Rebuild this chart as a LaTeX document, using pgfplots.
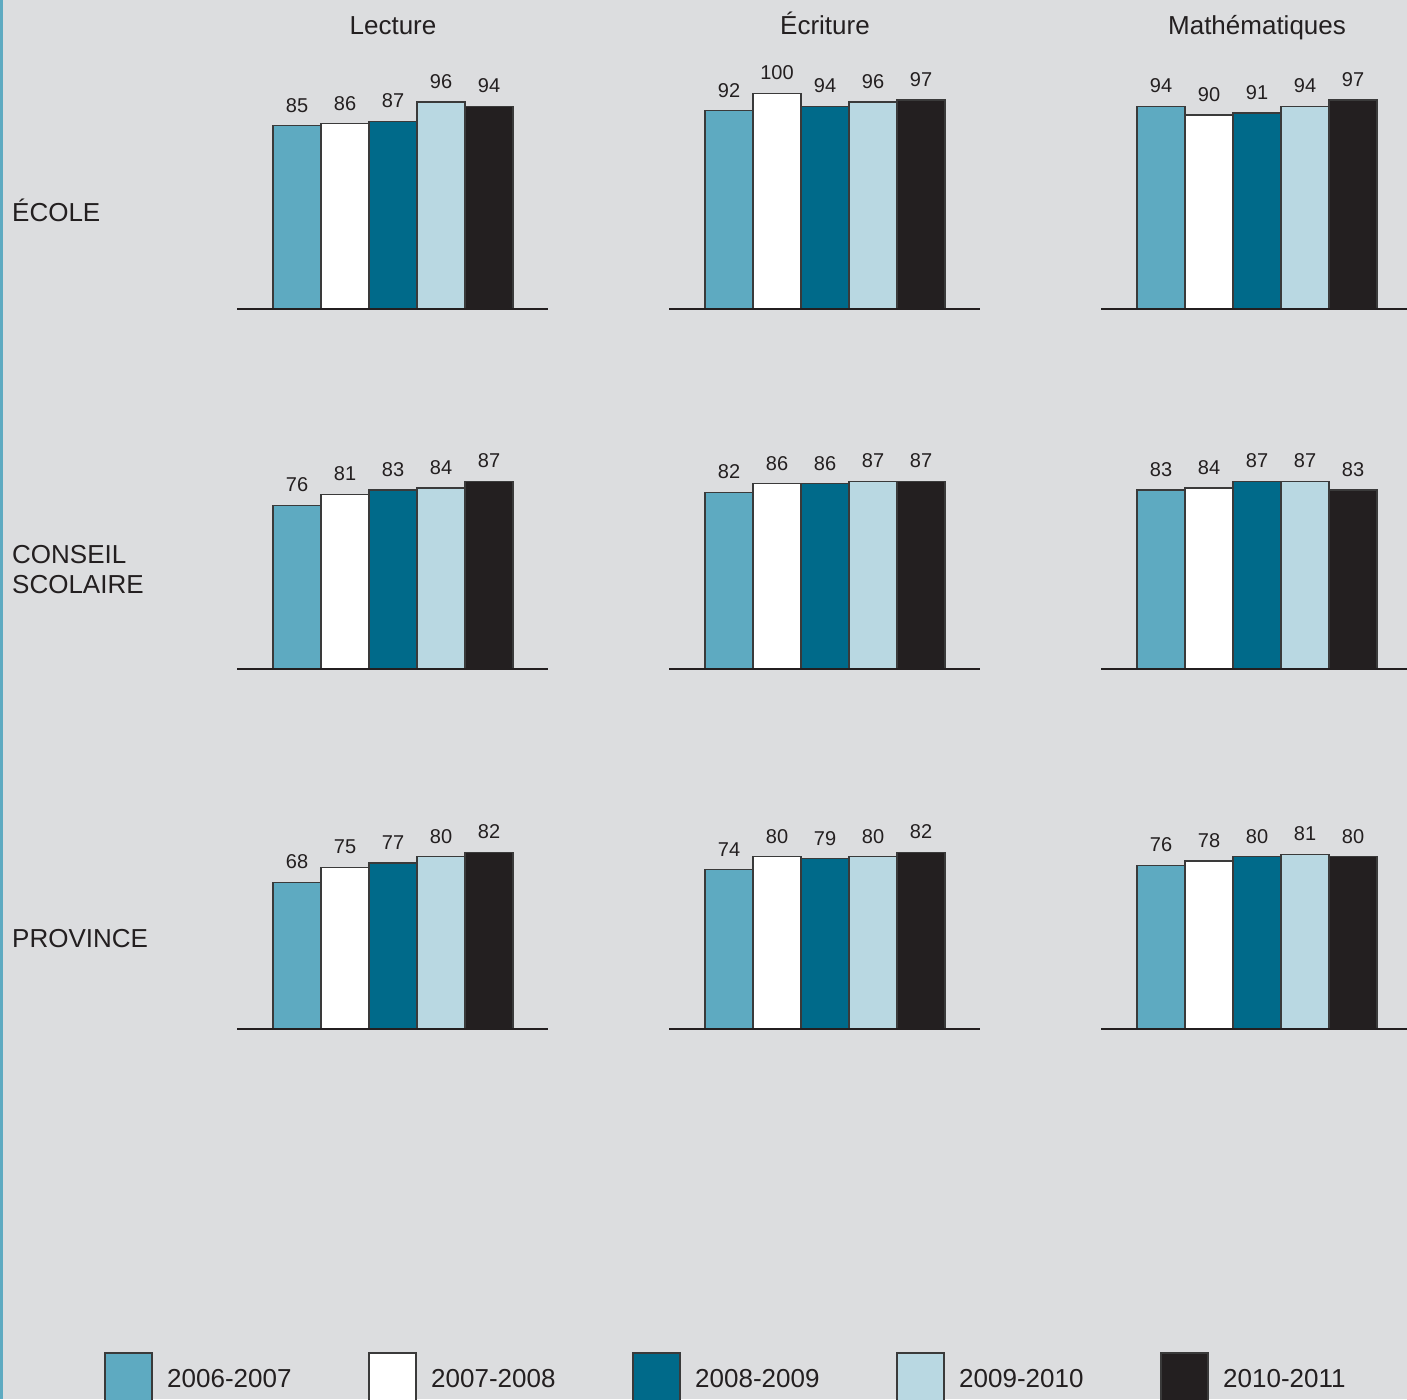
\documentclass[border=0pt]{standalone}
\usepackage{pgfplots}
\pgfplotsset{compat=1.18}
\usepackage{fontspec}
\setmainfont{Liberation Sans}
\definecolor{bg}{HTML}{DCDDDF}
\definecolor{cA}{HTML}{5EAAC1}
\definecolor{cB}{HTML}{FFFFFF}
\definecolor{cC}{HTML}{006A8A}
\definecolor{cD}{HTML}{B9D8E2}
\definecolor{cE}{HTML}{231F20}
\definecolor{txt}{HTML}{231F20}
\definecolor{edge}{HTML}{3A3A3A}
\newcommand\bigfont{\fontsize{26}{28}\selectfont}
\newcommand\valfont{\fontsize{20}{24}\selectfont}
\pgfplotsset{
  panel/.style={
    anchor=origin, x=48pt, y=2.155pt,
    xmin=-1.25, xmax=5.23, ymin=0, ymax=100,
    enlargelimits=false, hide axis, clip=false,
    ybar, bar width=48pt,
    /pgf/number format/assume math mode=true,
    nodes near coords,
    every node near coord/.append style={font=\valfont, text=txt, anchor=south, inner sep=0pt, yshift=12.7pt},
  },
  bb/.style={ybar, bar shift=0pt, bar width=48pt, draw=edge, line width=1.3pt, fill=#1},
}
\newcommand\panel[7]{%
\begin{axis}[panel, at={(#1pt,#2pt)}]
\addplot[bb=cA] coordinates {(0,#3)};
\addplot[bb=cB] coordinates {(1,#4)};
\addplot[bb=cC] coordinates {(2,#5)};
\addplot[bb=cD] coordinates {(3,#6)};
\addplot[bb=cE] coordinates {(4,#7)};
\draw[line width=1.3pt, txt] (axis cs:-1.25,0) -- (axis cs:5.23,0);
\end{axis}}
\begin{document}
\begin{tikzpicture}[x=1pt, y=1pt]
\path[use as bounding box] (0,0) rectangle (1407,-1399);
\clip (0,0) rectangle (1407,-1399);
\fill[bg] (0,0) rectangle (1407,-1399);
\fill[cA] (0,0) rectangle (2.5,-1399);
% titles
\node[font=\bigfont, text=txt, anchor=base, inner sep=0pt] at (393,-35) {Lecture};
\node[font=\bigfont, text=txt, anchor=base, inner sep=0pt] at (825,-35) {Écriture};
\node[font=\bigfont, text=txt, anchor=base, inner sep=0pt] at (1257,-35) {Mathématiques};
% row labels
\node[font=\bigfont, text=txt, anchor=base west, inner sep=0pt] at (12,-221) {ÉCOLE};
\node[font=\bigfont, text=txt, anchor=base west, inner sep=0pt] at (12,-563) {CONSEIL};
\node[font=\bigfont, text=txt, anchor=base west, inner sep=0pt] at (12,-593) {SCOLAIRE};
\node[font=\bigfont, text=txt, anchor=base west, inner sep=0pt] at (12,-947) {PROVINCE};
% panels: ECOLE
\panel{297}{-309}{85}{86}{87}{96}{94}
\panel{729}{-309}{92}{100}{94}{96}{97}
\panel{1161}{-309}{94}{90}{91}{94}{97}
% CONSEIL SCOLAIRE
\panel{297}{-669}{76}{81}{83}{84}{87}
\panel{729}{-669}{82}{86}{86}{87}{87}
\panel{1161}{-669}{83}{84}{87}{87}{83}
% PROVINCE
\panel{297}{-1029}{68}{75}{77}{80}{82}
\panel{729}{-1029}{74}{80}{79}{80}{82}
\panel{1161}{-1029}{76}{78}{80}{81}{80}
% legend
\foreach \col/\lab [count=\i from 0] in {cA/2006-2007, cB/2007-2008, cC/2008-2009, cD/2009-2010, cE/2010-2011}{
  \draw[fill=\col, draw=edge, line width=1.3pt] (105+264*\i,-1353) rectangle (152+264*\i,-1420);
  \node[font=\bigfont, text=txt, anchor=base west, inner sep=0pt] at (167+264*\i,-1387.3) {\lab};
}
\end{tikzpicture}
\end{document}
